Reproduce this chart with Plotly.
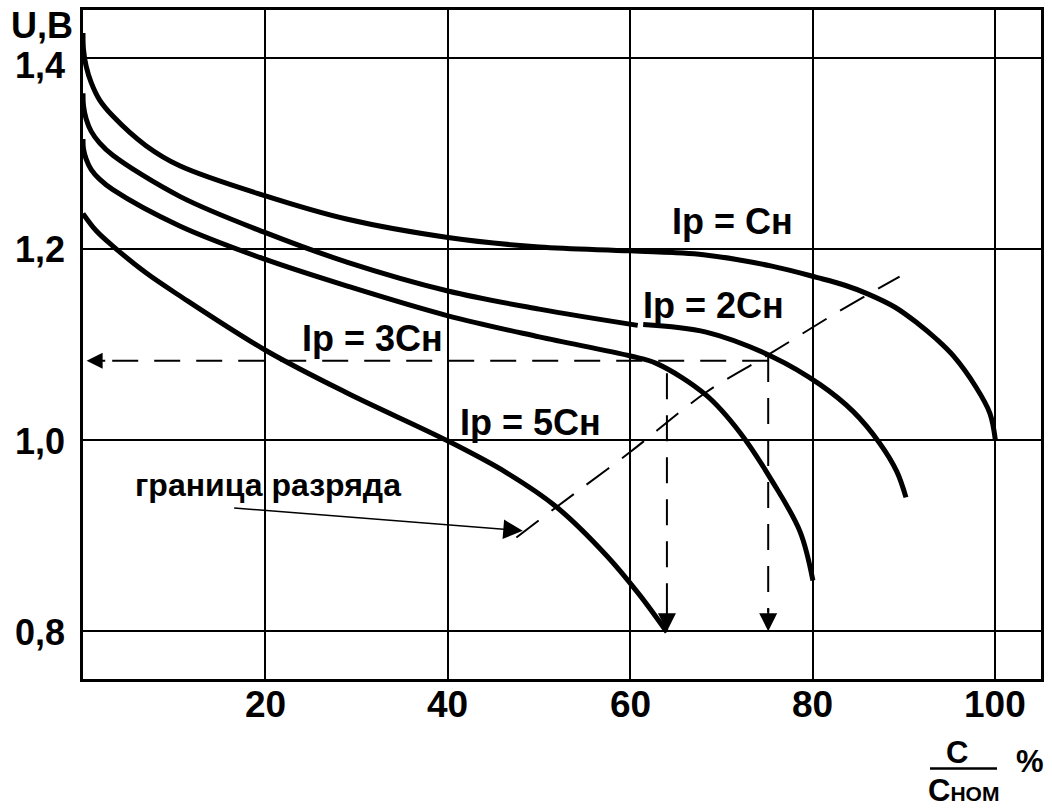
import plotly.graph_objects as go

# ---------------- data ----------------
c1_x = [0, 0.05, 0.35, 0.9, 1.81, 3.27, 6.9, 10.6, 20, 29, 40, 50, 60, 68, 75.5, 80.5, 83.5, 86, 89, 91.5, 93.5, 95.4, 97.9, 99.4, 100]
c1_y = [1.426, 1.409, 1.391, 1.374, 1.356, 1.339, 1.308, 1.287, 1.2555, 1.231, 1.212, 1.202, 1.198, 1.194, 1.182, 1.170, 1.162, 1.153, 1.139, 1.122, 1.106, 1.088, 1.055, 1.028, 1.0]

c2_x = [0, 0.05, 0.35, 0.9, 1.81, 3.27, 10.6, 20, 29, 40, 50, 60.8, None, 61.4, 68.3, 75.6, 80.8, 84.4, 87.3, 89.2, 90.2]
c2_y = [1.363, 1.350, 1.336, 1.323, 1.311, 1.298, 1.255, 1.217, 1.186, 1.156, 1.137, 1.120, None, 1.121, 1.113, 1.087, 1.058, 1.030, 0.997, 0.967, 0.940]

c3_x = [0, 0.05, 0.35, 0.9, 1.81, 3.27, 10.6, 20, 29, 40, 50, 60, 62.9, 68.3, 72, 75.6, 78.6, 80]
c3_y = [1.315, 1.305, 1.294, 1.283, 1.273, 1.262, 1.224, 1.189, 1.161, 1.130, 1.108, 1.088, 1.080, 1.047, 1.008, 0.956, 0.904, 0.853]

c4_x = [0, 1.45, 3.27, 6.9, 10.6, 20, 29, 40, 46.4, 51.9, 57.4, 61, 64]
c4_y = [1.237, 1.219, 1.203, 1.175, 1.151, 1.094, 1.049, 0.999, 0.966, 0.930, 0.879, 0.838, 0.799]

curve_labels = ["Ip = Cн", "Ip = 2Cн", "Ip = 3Cн", "Ip = 5Cн"]
label_x = [71.2, 69.1, 31.7, 49.1]
label_y = [1.229, 1.141, 1.106, 1.018]

# discharge boundary (dashed)
bound_x = [47.5, 51.9, 59.9, 68.3, 74.9, 82.9, 89.5]
bound_y = [0.898, 0.930, 0.987, 1.050, 1.088, 1.135, 1.171]

# read-off construction lines
read_level = 1.083
read_x_from = 75.1
read_x_to = 0.4
drop_x = [64.0, 75.1]
drop_top = [1.07, 1.088]
drop_bottom = 0.8

# pointer from the text "граница разряда"
pointer_tail = (16.4, 0.929)
pointer_tip = (48.2, 0.905)
pointer_text = "граница разряда"
pointer_text_pos = (20.3, 0.953)

xtick_vals = [20, 40, 60, 80, 100]
xtick_text = ["20", "40", "60", "80", "100"]
ytick_vals = [1.4, 1.2, 1.0, 0.8]
ytick_text = ["1,4", "1,2", "1,0", "0,8"]

FONT = "Liberation Sans, Arial, sans-serif"

fig = go.Figure()

# dashed construction lines
dash_style = dict(color="black", width=2, dash="26px,16px")
fig.add_trace(go.Scatter(x=[read_x_from, read_x_to + 2.0], y=[read_level, read_level],
                         mode="lines", line=dash_style, hoverinfo="skip"))
for dx, dt in zip(drop_x, drop_top):
    fig.add_trace(go.Scatter(x=[dx, dx], y=[dt, drop_bottom + 0.02], mode="lines",
                             line=dash_style, hoverinfo="skip"))
fig.add_trace(go.Scatter(x=bound_x, y=bound_y, mode="lines",
                         line=dict(color="black", width=2, dash="28px,16px", shape="spline"),
                         hoverinfo="skip"))

# main curves
for cx, cy in [(c1_x, c1_y), (c2_x, c2_y), (c3_x, c3_y), (c4_x, c4_y)]:
    fig.add_trace(go.Scatter(x=cx, y=cy, mode="lines",
                             line=dict(color="black", width=5, shape="spline", smoothing=1.0),
                             connectgaps=False, hoverinfo="skip"))

ann = []
# arrowheads
ann.append(dict(x=read_x_to, y=read_level, ax=read_x_to + 2.2, ay=read_level,
                xref="x", yref="y", axref="x", ayref="y", text="", showarrow=True,
                arrowhead=2, arrowsize=1.6, arrowwidth=2, arrowcolor="black"))
for dx in drop_x:
    ann.append(dict(x=dx, y=drop_bottom, ax=dx, ay=drop_bottom + 0.025,
                    xref="x", yref="y", axref="x", ayref="y", text="", showarrow=True,
                    arrowhead=2, arrowsize=1.8, arrowwidth=2, arrowcolor="black"))
ann.append(dict(x=pointer_tip[0], y=pointer_tip[1], ax=pointer_tail[0], ay=pointer_tail[1],
                xref="x", yref="y", axref="x", ayref="y", text="", showarrow=True,
                arrowhead=2, arrowsize=2.6, arrowwidth=1.5, arrowcolor="black"))
ann.append(dict(x=pointer_text_pos[0], y=pointer_text_pos[1], xref="x", yref="y",
                xanchor="center", yanchor="middle",
                text="<b>" + pointer_text + "</b>", showarrow=False,
                font=dict(family=FONT, size=32, color="black")))

# curve labels
for t, lx, ly in zip(curve_labels, label_x, label_y):
    ann.append(dict(x=lx, y=ly, xref="x", yref="y", xanchor="center", yanchor="middle",
                    text="<b>" + t + "</b>", showarrow=False,
                    font=dict(family=FONT, size=36, color="black")))

# y tick labels
for v, t in zip(ytick_vals, ytick_text):
    ann.append(dict(x=0, y=v, xref="paper", yref="y", xanchor="right", yanchor="middle",
                    xshift=-16, yshift=(-8 if v == max(ytick_vals) else -1),
                    text="<b>" + t + "</b>", showarrow=False,
                    font=dict(family=FONT, size=36, color="black")))

# x tick labels
for v, t in zip(xtick_vals, xtick_text):
    ann.append(dict(x=v, y=0, xref="x", yref="paper", xanchor="center", yanchor="middle",
                    yshift=-25, text="<b>" + t + "</b>", showarrow=False,
                    font=dict(family=FONT, size=37, color="black")))

# y-axis unit
ann.append(dict(x=-0.0428, y=0.9717, xref="paper", yref="paper", xanchor="center", yanchor="middle",
                yshift=3, text="<b>U,B</b>", showarrow=False,
                font=dict(family=FONT, size=36, color="black")))

# x-axis title: C / Сном  %
ann.append(dict(x=0.9123, y=-0.1101, xref="paper", yref="paper", xanchor="center", yanchor="middle",
                text="<b>C</b>", showarrow=False, font=dict(family=FONT, size=31, color="black")))
ann.append(dict(x=0.9196, y=-0.1667, xref="paper", yref="paper", xanchor="center", yanchor="middle",
                text="<b>C<span style='font-size:21px'>НОМ</span></b>",
                showarrow=False, font=dict(family=FONT, size=31, color="black")))
ann.append(dict(x=0.9885, y=-0.1235, xref="paper", yref="paper", xanchor="center", yanchor="middle",
                text="<b>%</b>", showarrow=False, font=dict(family=FONT, size=31, color="black")))

shapes = [dict(type="line", xref="paper", yref="paper", x0=0.8841, x1=0.9541, y0=-0.1339, y1=-0.1339,
               line=dict(color="black", width=2.5))]

fig.update_layout(
    width=1052, height=809,
    margin=dict(l=83, r=11, t=7, b=130),
    plot_bgcolor="white", paper_bgcolor="white",
    showlegend=False,
    annotations=ann, shapes=shapes,
    xaxis=dict(range=[0, 105], tickvals=xtick_vals, showticklabels=False,
               showgrid=True, gridcolor="black", gridwidth=2, zeroline=False,
               showline=True, linecolor="black", linewidth=3, mirror=True, ticks=""),
    yaxis=dict(range=[0.75, 1.45], tickvals=ytick_vals, showticklabels=False,
               showgrid=True, gridcolor="black", gridwidth=2, zeroline=False,
               showline=True, linecolor="black", linewidth=3, mirror=True, ticks=""),
)

fig.write_html("out.html")
